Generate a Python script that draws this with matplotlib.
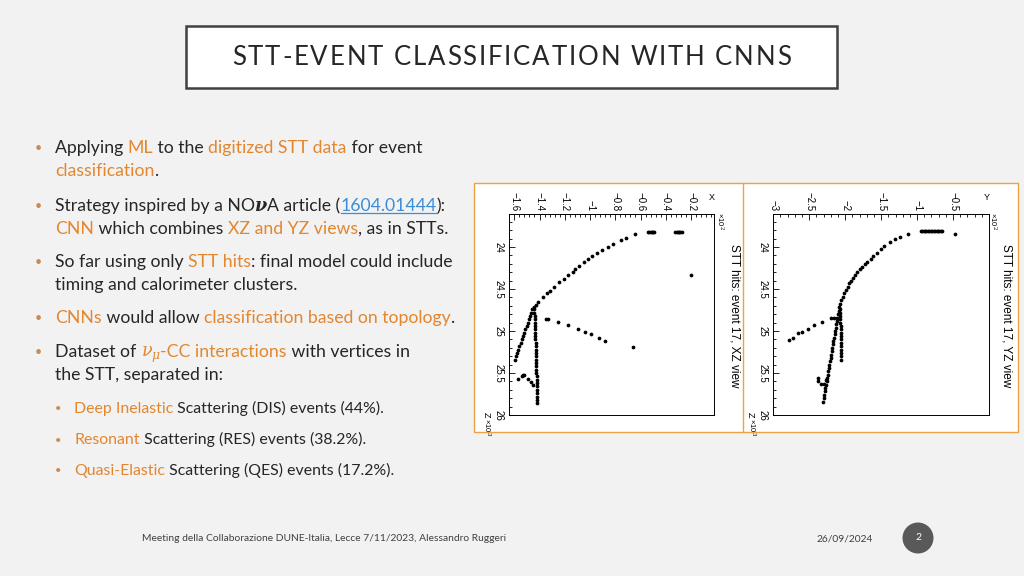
import matplotlib
matplotlib.use("Agg")
import matplotlib.pyplot as plt
from matplotlib.lines import Line2D
from matplotlib.patches import Rectangle, Ellipse
from matplotlib.ticker import MultipleLocator

# ----------------------------
# DATA (hits read off the event display, X/Y in 10^2, Z in 10^3)
# ----------------------------
# XZ view
xz_curve_x = [-0.54, -0.53, -0.52, -0.51, -0.50, -0.49,
              -0.646, -0.717, -0.755, -0.816, -0.860, -0.907, -0.947, -0.982,
              -1.018, -1.050, -1.087, -1.119, -1.137, -1.172, -1.204, -1.243,
              -1.283, -1.317, -1.343, -1.370, -1.410, -1.428, -1.442]
xz_curve_z = [23.818, 23.818, 23.818, 23.818, 23.818, 23.818,
              23.849, 23.889, 23.917, 23.964, 23.996, 24.036, 24.075, 24.107,
              24.147, 24.182, 24.227, 24.266, 24.295, 24.338, 24.378, 24.421,
              24.481, 24.521, 24.552, 24.600, 24.652, 24.692, 24.719]
xz_blob_x = [-0.325, -0.315, -0.305, -0.295, -0.285, -0.275]
xz_blob_z = [23.818, 23.818, 23.818, 23.818, 23.818, 23.818]
xz_left_x = [-1.456, -1.465, -1.475, -1.484, -1.494, -1.503, -1.513, -1.522,
             -1.532, -1.541, -1.550, -1.560, -1.569, -1.579, -1.588, -1.598]
xz_left_z = [24.74, 24.78, 24.82, 24.86, 24.90, 24.94, 24.98, 25.02,
             25.06, 25.10, 25.14, 25.18, 25.22, 25.26, 25.30, 25.34]
xz_col_x = [-1.441, -1.440, -1.439, -1.438, -1.437, -1.437, -1.436, -1.435,
            -1.434, -1.433, -1.432, -1.432, -1.431, -1.430, -1.429, -1.428,
            -1.427, -1.427, -1.426, -1.425, -1.424, -1.423, -1.422, -1.422,
            -1.421, -1.420, -1.419, -1.418, -1.418]
xz_col_z = [24.74, 24.78, 24.82, 24.86, 24.90, 24.94, 24.98, 25.02,
            25.06, 25.10, 25.14, 25.18, 25.22, 25.26, 25.30, 25.34,
            25.38, 25.42, 25.46, 25.50, 25.54, 25.58, 25.62, 25.66,
            25.70, 25.74, 25.78, 25.82, 25.86]
xz_branch_x = [-1.351, -1.335, -1.251, -1.172, -1.098, -1.040, -0.992, -0.929, -0.881, -0.657]
xz_branch_z = [24.859, 24.862, 24.898, 24.930, 24.970, 25.010, 25.038, 25.077, 25.117, 25.193]
xz_hook_x = [-1.573, -1.541, -1.528, -1.521, -1.494, -1.468, -1.449]
xz_hook_z = [25.566, 25.530, 25.527, 25.527, 25.566, 25.606, 25.637]
xz_iso_x = [-0.200]
xz_iso_z = [24.334]

# YZ view
yz_blob_y = [-0.95, -0.93, -0.91, -0.89, -0.87, -0.85, -0.83, -0.81,
             -0.79, -0.77, -0.75, -0.73, -0.71, -0.69, -0.67, -0.65]
yz_blob_z = [23.806] * 16
yz_curve_y = [-0.477, -1.120, -1.234, -1.303, -1.381, -1.464, -1.509, -1.564,
              -1.615, -1.647, -1.692, -1.725, -1.761, -1.798, -1.830, -1.863,
              -1.890, -1.922, -1.945, -1.968, -1.991, -2.014, -2.036, -2.056,
              -2.073, -2.083]
yz_curve_z = [23.845, 23.845, 23.877, 23.908, 23.940, 23.988, 24.027, 24.068,
              24.107, 24.140, 24.175, 24.203, 24.235, 24.266, 24.298, 24.334,
              24.366, 24.402, 24.433, 24.473, 24.513, 24.552, 24.593, 24.632,
              24.680, 24.712]
yz_col_y = [-2.070, -2.068, -2.067, -2.066, -2.066, -2.065, -2.065, -2.064,
            -2.064, -2.063, -2.063, -2.062, -2.062, -2.061, -2.061, -2.060]
yz_col_z = [24.74, 24.78, 24.82, 24.86, 24.90, 24.94, 24.98, 25.02,
            25.06, 25.10, 25.14, 25.18, 25.22, 25.26, 25.30, 25.34]
yz_steep_y = [-2.092, -2.100, -2.108, -2.116, -2.124, -2.132, -2.140, -2.148,
              -2.156, -2.164, -2.172, -2.180, -2.188, -2.196, -2.204, -2.212,
              -2.220, -2.228, -2.236, -2.244, -2.252, -2.260, -2.268, -2.276,
              -2.284, -2.292, -2.300, -2.308]
yz_steep_z = [24.76, 24.80, 24.84, 24.88, 24.92, 24.96, 25.00, 25.04,
              25.08, 25.12, 25.16, 25.20, 25.24, 25.28, 25.32, 25.36,
              25.40, 25.44, 25.48, 25.52, 25.56, 25.60, 25.64, 25.68,
              25.72, 25.76, 25.80, 25.84]
yz_branch_y = [-2.152, -2.197, -2.321, -2.427, -2.518, -2.597, -2.656, -2.725, -2.780]
yz_branch_z = [24.850, 24.850, 24.891, 24.930, 24.970, 25.010, 25.029, 25.077, 25.109]
yz_hook_y = [-2.380, -2.372, -2.339, -2.290, -2.270]
yz_hook_z = [25.560, 25.600, 25.634, 25.634, 25.586]

xz_ticks = [-1.6, -1.4, -1.2, -1.0, -0.8, -0.6, -0.4, -0.2]
xz_ticklabels = ["\u22121.6", "\u22121.4", "\u22121.2", "\u22121", "\u22120.8", "\u22120.6", "\u22120.4", "\u22120.2"]
yz_ticks = [-3.0, -2.5, -2.0, -1.5, -1.0, -0.5]
yz_ticklabels = ["\u22123", "\u22122.5", "\u22122", "\u22121.5", "\u22121", "\u22120.5"]
z_ticks = [24.0, 24.5, 25.0, 25.5, 26.0]
z_ticklabels = ["24", "24.5", "25", "25.5", "26"]

# ----------------------------
# STYLE
# ----------------------------
W, H = 1024, 576
BODY_FONT = "Lato"
ROOT_FONT = "Liberation Sans"
DARK = "#262626"
ORANGE = "#E3862E"
LINK = "#3C8DD8"

fig = plt.figure(figsize=(W / 100, H / 100), dpi=100, facecolor="#f2f2f2")
plt.rcParams["mathtext.fontset"] = "dejavuserif"
renderer = fig.canvas.get_renderer()


def fx(px):
    return px / W


def fy(py):
    return 1 - py / H


def advance(txt, size, props):
    # width of txt incl. trailing spaces (measure against a bar glyph)
    t1 = fig.text(0, 0, txt + "|", fontsize=size, **props)
    t2 = fig.text(0, 0, "|", fontsize=size, **props)
    w = t1.get_window_extent(renderer).width - t2.get_window_extent(renderer).width
    t1.remove()
    t2.remove()
    return w


def rich_line(x, y, parts, size):
    for part in parts:
        txt, color = part[0], part[1]
        props = dict(family=BODY_FONT)
        if len(part) > 2:
            props.update(part[2])
        underline = props.pop("underline", False)
        fig.text(fx(x), fy(y), txt, color=color, fontsize=size, va="baseline", ha="left", **props)
        w = advance(txt, size, props)
        if underline:
            fig.add_artist(Line2D([fx(x), fx(x + w)], [fy(y + 2), fy(y + 2)], color=color, lw=0.9))
        x += w


def spaced_title(txt, xc, y, size, width):
    props = dict(family=BODY_FONT)
    advs = [advance(c, size, props) for c in txt]
    extra = (width - sum(advs)) / (len(txt) - 1)
    x = xc - width / 2
    for c, a in zip(txt, advs):
        fig.text(fx(x), fy(y), c, color=DARK, fontsize=size, va="baseline", ha="left", **props)
        x += a + extra


# ----------------------------
# Title box
# ----------------------------
fig.add_artist(Rectangle((fx(186), fy(88)), (837 - 186) / W, (88 - 26) / H, zorder=-2,
                         transform=fig.transFigure, facecolor="white", edgecolor="#404040", lw=1.8))
spaced_title("STT-EVENT CLASSIFICATION WITH CNNS", 511.5, 65, 18.5, 559)

# ----------------------------
# Bullet text
# ----------------------------
SERIF_NU = dict(family="DejaVu Serif", style="italic", weight="bold")
main_lines = [
    (153, True, [("Applying ", DARK), ("ML", ORANGE), (" to the ", DARK), ("digitized STT data", ORANGE), (" for event", DARK)]),
    (176, False, [("classification", ORANGE), (".", DARK)]),
    (211, True, [("Strategy inspired by a NO", DARK), ("\u03bd", DARK, SERIF_NU), ("A article (", DARK),
                 ("1604.01444", LINK, dict(underline=True)), ("):", DARK)]),
    (234, False, [("CNN", ORANGE), (" which combines ", DARK), ("XZ and YZ views", ORANGE), (", as in STTs.", DARK)]),
    (267, True, [("So far using only ", DARK), ("STT hits", ORANGE), (": final model could include", DARK)]),
    (290, False, [("timing and calorimeter clusters.", DARK)]),
    (323, True, [("CNNs", ORANGE), (" would allow ", DARK), ("classification based on topology", ORANGE), (".", DARK)]),
    (357, True, [("Dataset of ", DARK), (r"$\nu_\mu$", ORANGE), ("-CC interactions", ORANGE), (" with vertices in", DARK)]),
    (380, False, [("the STT, separated in:", DARK)]),
]
sub_lines = [
    (413, [("Deep Inelastic", ORANGE), (" Scattering (DIS) events (44%).", DARK)]),
    (444, [("Resonant", ORANGE), (" Scattering (RES) events (38.2%).", DARK)]),
    (475, [("Quasi-Elastic", ORANGE), (" Scattering (QES) events (17.2%).", DARK)]),
]
for yb, bullet, parts in main_lines:
    if bullet:
        fig.text(fx(38), fy(yb - 5), "\u2022", color="#C98A55", fontsize=9, ha="center", va="center", family=BODY_FONT)
    rich_line(55, yb, parts, 12.7)
for yb, parts in sub_lines:
    fig.text(fx(58), fy(yb - 4), "\u2022", color="#C98A55", fontsize=8, ha="center", va="center", family=BODY_FONT)
    rich_line(74, yb, parts, 11.4)

# ----------------------------
# Event display panels
# ----------------------------
fig.add_artist(Rectangle((fx(474), fy(432)), (1018 - 474) / W, (432 - 183) / H, zorder=-2,
                         transform=fig.transFigure, facecolor="white", edgecolor="#EDA245", lw=1.0))
fig.add_artist(Line2D([fx(743), fx(743)], [fy(183), fy(432)], color="#EDA245", lw=1.0, zorder=-1))


def make_panel(frame, xlim, ticks, ticklabels, minor, tracks, axis_name, title, title_x, exp_x):
    left, top, right, bottom = frame
    ax = fig.add_axes([fx(left), fy(bottom), (right - left) / W, (bottom - top) / H])
    ax.set_zorder(2)
    for xs, zs in tracks:
        ax.plot(xs, zs, "o", color="black", ms=2.7, mew=0)
    ax.set_xlim(*xlim)
    ax.set_ylim(26.0, 23.606)
    ax.xaxis.tick_top()
    ax.set_xticks(ticks)
    ax.set_xticklabels(ticklabels, rotation=-90, family=ROOT_FONT, fontsize=7)
    ax.set_yticks(z_ticks)
    ax.set_yticklabels(z_ticklabels, rotation=-90, va="center", family=ROOT_FONT, fontsize=7)
    ax.xaxis.set_minor_locator(MultipleLocator(minor))
    ax.yaxis.set_minor_locator(MultipleLocator(0.1))
    ax.tick_params(which="both", direction="in", top=True, bottom=False, left=True, right=False, width=0.6)
    ax.tick_params(which="major", length=4)
    ax.tick_params(which="minor", length=2)
    ax.tick_params(axis="x", pad=2)
    ax.tick_params(axis="y", pad=4)
    for s in ax.spines.values():
        s.set_linewidth(0.7)
    ax.set_facecolor("white")
    # rotated labels around the frame
    fig.text(fx(title_x), fy(316), title, rotation=-90, ha="center", va="center", fontsize=8.5, family=ROOT_FONT)
    fig.text(fx(right - 2), fy(198), axis_name, ha="center", va="center", fontsize=6.5, family=ROOT_FONT)
    fig.text(fx(exp_x), fy(221), "\u00d710$^2$", rotation=-90, ha="center", va="center", fontsize=5.5, family=ROOT_FONT)
    fig.text(fx(left - 23), fy(415), "Z", rotation=-90, ha="center", va="center", fontsize=6.5, family=ROOT_FONT)
    fig.text(fx(left - 22), fy(427), "\u00d710$^3$", rotation=-90, ha="center", va="center", fontsize=5.5, family=ROOT_FONT)
    return ax


xz_tracks = [(xz_curve_x, xz_curve_z), (xz_blob_x, xz_blob_z), (xz_left_x, xz_left_z),
             (xz_col_x, xz_col_z), (xz_branch_x, xz_branch_z), (xz_hook_x, xz_hook_z),
             (xz_iso_x, xz_iso_z)]
yz_tracks = [(yz_blob_y, yz_blob_z), (yz_curve_y, yz_curve_z), (yz_col_y, yz_col_z),
             (yz_steep_y, yz_steep_z), (yz_branch_y, yz_branch_z), (yz_hook_y, yz_hook_z)]

make_panel((509, 214, 714, 415), (-1.642, -0.018), xz_ticks, xz_ticklabels, 0.04, xz_tracks,
           "X", "STT hits: event 17, XZ view", 734.5, 720)
make_panel((773.3, 214, 989, 415), (-3.0, 0.0), yz_ticks, yz_ticklabels, 0.1, yz_tracks,
           "Y", "STT hits: event 17, YZ view", 1007, 993)

# ----------------------------
# Footer
# ----------------------------
fig.text(fx(142), fy(541), "Meeting della Collaborazione DUNE-Italia, Lecce 7/11/2023, Alessandro Ruggeri",
         fontsize=7.35, color="#404040", family=BODY_FONT, va="baseline")
fig.text(fx(817), fy(541), "26/09/2024", fontsize=7.35, color="#404040", family=BODY_FONT, va="baseline")
fig.add_artist(Ellipse((fx(918), fy(538)), 31 / W, 31 / H, transform=fig.transFigure,
                       facecolor="#595959", edgecolor="none"))
fig.text(fx(918), fy(538), "2", fontsize=7.5, color="white", family=BODY_FONT, ha="center", va="center")

fig.savefig("out.png", dpi=100, facecolor=fig.get_facecolor())
